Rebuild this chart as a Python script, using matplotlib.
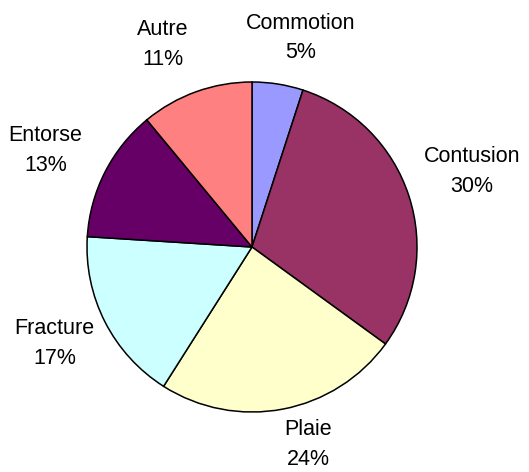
import numpy as np
import matplotlib.pyplot as plt

# Injury types and their share (%)
categories = ["Commotion", "Contusion", "Plaie", "Fracture", "Entorse", "Autre"]
values = [5, 30, 24, 17, 13, 11]
colors = ["#9999FF", "#993366", "#FFFFCC", "#CCFFFF", "#660066", "#FF8080"]

# label placement tweaks (angle nudge in degrees, distance in radii)
label_nudge = [-4, 1, 5, -1, 2, 4]
label_dist = [1.30, 1.41, 1.245, 1.33, 1.38, 1.34]

plt.rcParams["font.family"] = ["Liberation Sans", "DejaVu Sans"]

fig = plt.figure(figsize=(5.29, 4.72), dpi=100)
ax = fig.add_axes([87 / 529, (472 - 412) / 472, 330 / 529, 330 / 472])

wedges, _ = ax.pie(values, colors=colors, startangle=90, counterclock=False,
                   wedgeprops=dict(edgecolor="black", linewidth=1.1))

# labels outside the pie, centred on the slice direction
for w, name, v, nud, d in zip(wedges, categories, values, label_nudge, label_dist):
    ang = np.deg2rad((w.theta1 + w.theta2) / 2 + nud)
    ax.text(d * np.cos(ang), d * np.sin(ang), f"{name}\n{v}%",
            ha="center", va="center", fontsize=15.5, linespacing=1.55)

ax.set_xlim(-1, 1)
ax.set_ylim(-1, 1)
ax.set_aspect("equal")

fig.savefig("out.png", dpi=100)
